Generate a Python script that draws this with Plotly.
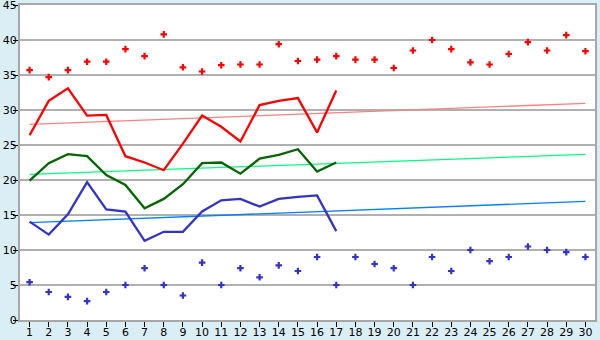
import plotly.graph_objects as go

days = list(range(1, 31))
line_days = list(range(1, 18))

high_pts = [35.7, 34.7, 35.7, 36.9, 36.9, 38.7, 37.7, 40.8, 36.1, 35.5,
            36.4, 36.5, 36.5, 39.4, 37.0, 37.2, 37.7, 37.2, 37.2, 36.0,
            38.5, 40.0, 38.7, 36.8, 36.5, 38.0, 39.7, 38.5, 40.7, 38.4]
low_pts = [5.4, 4.0, 3.3, 2.7, 4.0, 5.0, 7.4, 5.0, 3.5, 8.2,
           5.0, 7.4, 6.1, 7.8, 7.0, 9.0, 5.0, 9.0, 8.0, 7.4,
           5.0, 9.0, 7.0, 10.0, 8.4, 9.0, 10.5, 10.0, 9.7, 9.0]
red_line = [26.4, 31.3, 33.1, 29.2, 29.3, 23.4, 22.5, 21.4, 25.2, 29.2,
            27.6, 25.5, 30.7, 31.3, 31.7, 26.8, 32.8]
green_line = [19.9, 22.4, 23.7, 23.4, 20.7, 19.3, 15.95, 17.3, 19.4, 22.4,
              22.5, 20.9, 23.05, 23.6, 24.4, 21.2, 22.5]
blue_line = [14.05, 12.2, 15.1, 19.7, 15.8, 15.5, 11.3, 12.6, 12.6, 15.5,
             17.1, 17.3, 16.2, 17.3, 17.6, 17.8, 12.7]
trend_x = [1, 30]
red_trend = [27.95, 30.95]
green_trend = [20.8, 23.67]
blue_trend = [13.9, 16.95]

fig = go.Figure()
fig.add_trace(go.Scatter(x=trend_x, y=red_trend, mode="lines",
                         line=dict(color="#FF8080", width=1.3)))
fig.add_trace(go.Scatter(x=trend_x, y=green_trend, mode="lines",
                         line=dict(color="#00FF80", width=1.3)))
fig.add_trace(go.Scatter(x=trend_x, y=blue_trend, mode="lines",
                         line=dict(color="#0080FF", width=1.3)))
fig.add_trace(go.Scatter(x=line_days, y=red_line, mode="lines",
                         line=dict(color="#FF0000", width=2.3)))
fig.add_trace(go.Scatter(x=line_days, y=green_line, mode="lines",
                         line=dict(color="#006600", width=2.3)))
fig.add_trace(go.Scatter(x=line_days, y=blue_line, mode="lines",
                         line=dict(color="#3333CC", width=2.3)))
fig.add_trace(go.Scatter(x=days, y=high_pts, mode="markers",
                         marker=dict(symbol="cross", size=5.5, color="#FF0000",
                                     line=dict(width=0))))
fig.add_trace(go.Scatter(x=days, y=low_pts, mode="markers",
                         marker=dict(symbol="cross", size=5.5, color="#3333CC",
                                     line=dict(width=0))))

fig.update_layout(
    width=600, height=340, autosize=False,
    margin=dict(l=20, r=5, t=5, b=20, autoexpand=False),
    paper_bgcolor="#DAEEF5", plot_bgcolor="#FFFFFF",
    showlegend=False,
    font=dict(family="DejaVu Sans", size=11, color="#000000"),
)
fig.update_xaxes(range=[0.5, 30.5], tickvals=days, ticks="outside", ticklen=5,
                 tickcolor="#000000", showgrid=False, zeroline=False,
                 showline=True, linecolor="#A8A8A8", linewidth=2, mirror=True,
                 automargin=False, ticklabelstandoff=-4, ticklabeloverflow="allow",
                 tickfont=dict(size=11))
fig.update_yaxes(range=[0, 45], dtick=5, ticks="outside", ticklen=5,
                 tickcolor="#000000", showgrid=True, gridcolor="#B0B0B0",
                 gridwidth=1.5, zeroline=False, showline=True,
                 linecolor="#A8A8A8", linewidth=2, mirror=True,
                 automargin=False, ticklabelstandoff=-6, ticklabeloverflow="allow",
                 tickfont=dict(size=11))

fig.write_html("out.html")
